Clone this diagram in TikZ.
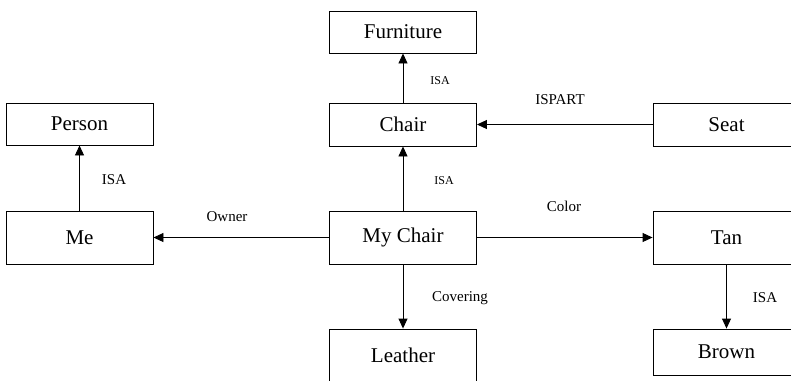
\documentclass[tikz,border=0pt]{standalone}
\usepackage{fontspec}
\setmainfont{Liberation Serif}
\usetikzlibrary{arrows.meta}
\begin{document}
\begin{tikzpicture}[x=1pt,y=-1pt,
  concept/.style={draw, rectangle, line width=0.9pt, minimum width=147pt, inner sep=0pt,
                  font=\fontsize{21}{25}\selectfont},
  rel/.style={line width=0.9pt, -{Triangle[length=10pt,width=9pt]}},
  lbl/.style={inner sep=0pt, font=\fontsize{15}{18}\selectfont},
  lblsmall/.style={inner sep=0pt, font=\fontsize{12}{14}\selectfont}]
  % frame of the page; boxes at the edges are cut by it
  \clip (0,0) rectangle (791,380);

  % concept boxes
  \node[concept, minimum height=42pt] (furniture) at (403,32)    {Furniture};
  \node[concept, minimum height=43pt] (chair)     at (403,124.5) {Chair};
  \node[concept, minimum height=43pt] (seat)      at (726.5,124.5) {Seat};
  \node[concept, minimum height=42pt] (person)    at (79.5,124)  {Person};
  \node[concept, minimum height=53pt] (me)        at (79.5,237.5){Me};
  \node[concept, minimum height=53pt] (mychair)   at (403,237.5) {My Chair};
  \node[concept, minimum height=53pt] (tan)       at (726.5,237.5){Tan};
  \node[concept, minimum height=53pt] (leather)   at (403,355.5) {Leather};
  \node[concept, minimum height=46pt] (brown)     at (726.5,352) {Brown};

  % relations
  \draw[rel] (chair) -- (furniture);
  \draw[rel] (seat) -- (chair);
  \draw[rel] (me) -- (person);
  \draw[rel] (mychair) -- (chair);
  \draw[rel] (mychair) -- (me);
  \draw[rel] (mychair) -- (tan);
  \draw[rel] (mychair) -- (leather);
  \draw[rel] (tan) -- (brown);

  % relation labels
  \node[lblsmall] (l1) at (440,81)  {ISA};
  \node[lbl]      (l2) at (560,100) {ISPART};
  \node[lbl]      (l3) at (114,180) {ISA};
  \node[lblsmall] (l4) at (444,181) {ISA};
  \node[lbl]      (l5) at (227,217) {Owner};
  \node[lbl]      (l6) at (564,206) {Color};
  \node[lbl]      (l7) at (460,298) {Covering};
  \node[lbl]      (l8) at (765,298) {ISA};
\end{tikzpicture}
\end{document}
